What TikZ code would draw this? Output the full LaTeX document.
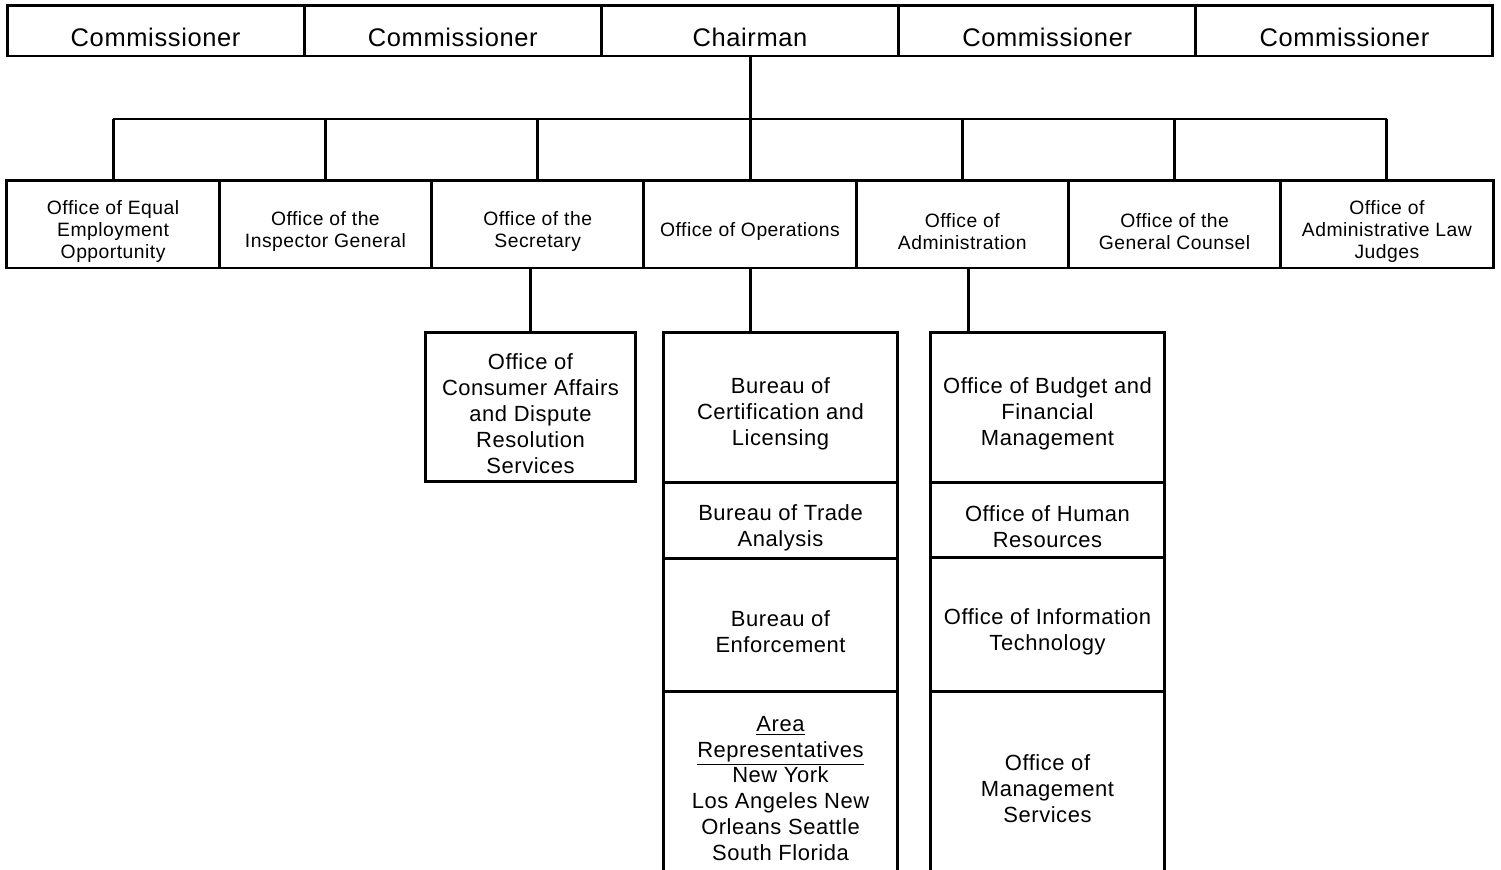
\documentclass[tikz,border=0pt]{standalone}
\usepackage{fontspec}
\setmainfont[LetterSpace=2.5]{Liberation Sans}
\usetikzlibrary{positioning}

% taller first line, so the text sits a little low in its box
\newcommand{\og}{\rule{0pt}{17pt}}
\newcommand{\sg}{\rule{0pt}{16.5pt}}

\begin{document}
\begin{tikzpicture}[x=0.02cm, y=-0.02cm,
  topbox/.style={rectangle, draw, line width=1.7pt, minimum width=5.944cm,
    minimum height=1.02cm, inner sep=0pt, outer sep=0pt, text height=18pt,
    font=\fontsize{14.5}{17}\selectfont},
  officebox/.style={rectangle, draw, line width=1.7pt, minimum width=4.246cm,
    minimum height=1.76cm, inner sep=0pt, outer sep=0pt, align=center,
    font=\fontsize{11}{12.5}\selectfont},
  subbox/.style={rectangle, draw, line width=1.7pt, minimum width=4.7cm,
    inner sep=0pt, outer sep=0pt, align=center,
    font=\fontsize{12.5}{14.7}\selectfont},
  link/.style={line width=1.7pt}
]
\clip (0,0) rectangle (1501,869);

% top row
\node[topbox] (com1) at (155.6,30.5) {Commissioner};
\node[topbox] (com2) at (452.8,30.5) {Commissioner};
\node[topbox] (chair) at (750,30.5) {Chairman};
\node[topbox] (com3) at (1047.2,30.5) {Commissioner};
\node[topbox] (com4) at (1344.4,30.5) {Commissioner};

% offices under the chairman
\node[officebox] (eeo) at (113.1,224) {\og Office of Equal\\Employment\\Opportunity};
\node[officebox] (oig) at (325.4,224) {\og Office of the\\Inspector General};
\node[officebox] (sec) at (537.7,224) {\og Office of the\\Secretary};
\node[officebox] (ops) at (750,224) {\og Office of Operations};
\node[officebox] (adm) at (962.3,224) {\og Office of\\Administration};
\node[officebox] (ogc) at (1174.6,224) {\og Office of the\\General Counsel};
\node[officebox] (alj) at (1386.9,224) {\og Office of\\Administrative Law\\Judges};

% bus line
\coordinate (busL) at (113.1,119);
\coordinate (busR) at (1386.9,119);
\draw[link] (chair.south) -- (chair.south |- busL);
\draw[link] (busL) -- (busR);
\foreach \o in {eeo,oig,sec,ops,adm,ogc,alj}
  \draw[link] (\o.north) -- (\o.north |- busL);

% secretary
\node[subbox, minimum width=4.22cm, minimum height=3cm] (cadr) at (530.5,407)
  {\sg Office of\\Consumer Affairs\\and Dispute\\Resolution\\Services};
\draw[link] (cadr.north) -- (cadr.north |- sec.south);

% operations stack
\node[subbox, minimum height=3.02cm] (bcl) at (780.5,407.5)
  {\sg Bureau of\\Certification and\\Licensing};
\node[subbox, minimum height=1.52cm, below=0pt of bcl] (bta) {\sg Bureau of Trade\\Analysis};
\node[subbox, minimum height=2.66cm, below=0pt of bta] (boe) {\sg Bureau of\\Enforcement};
\node[subbox, minimum height=3.86cm, below=0pt of boe] (area)
  {\underline{Area}\\\smash{\underline{Representatives}}\\New York\\Los Angeles New\\Orleans Seattle\\South Florida};
\draw[link] (ops.south) -- (ops.south |- bcl.north);

% administration stack
\node[subbox, minimum height=3.02cm] (obfm) at (1047.5,407.5)
  {\sg Office of Budget and\\Financial\\Management};
\node[subbox, minimum height=1.5cm, below=0pt of obfm] (ohr) {\sg Office of Human\\Resources};
\node[subbox, minimum height=2.68cm, below=0pt of ohr] (oit) {\sg Office of Information\\Technology};
\node[subbox, minimum height=3.6cm, below=0pt of oit] (oms) {\sg Office of\\Management\\Services};
\draw[link] (968,268) -- (968,332);

\end{tikzpicture}
\end{document}
